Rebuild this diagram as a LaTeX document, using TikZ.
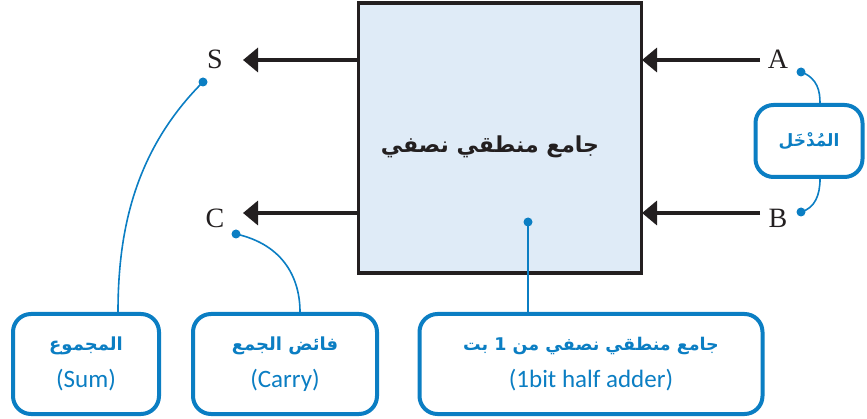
\documentclass[tikz,border=0pt]{standalone}
\usepackage{fontspec}
\setmainfont{Liberation Serif}
\newfontfamily\arabicfont[Script=Arabic]{DejaVu Sans}
\newfontfamily\latinsans{Carlito}
\TeXXeTstate=1
\usetikzlibrary{arrows.meta}
\definecolor{callblue}{HTML}{0B7EC3}
\definecolor{boxfill}{HTML}{DFEBF7}
\definecolor{ink}{HTML}{231F20}
\tikzset{
  callout/.style={draw=callblue, line width=4pt, rounded corners=18pt, fill=white, align=center, text=callblue, inner sep=0pt},
  conn/.style={draw=callblue, line width=1.6pt},
  sig/.style={draw=ink, line width=3.5pt, -{Triangle[length=15pt,width=24pt]}},
  lbl/.style={font=\fontsize{28}{32}\selectfont, text=ink},
  dotc/.style={fill=callblue, draw=none}
}
\begin{document}
\begin{tikzpicture}[x=1pt,y=-1pt]
\useasboundingbox (0,0) rectangle (867,419);
% main box
\node[draw=ink, line width=3.5pt, fill=boxfill, minimum width=283pt, minimum height=270pt, inner sep=0pt] (ha) at (500,138) {};
\node[text=ink] (hat) at (490,147) {\arabicfont\bfseries\fontsize{22}{26}\selectfont\beginR جامع منطقي نصفي\endR};
% labels
\node[lbl] (S) at (215,59) {S};
\node[lbl] (C) at (215,218) {C};
\node[lbl] (A) at (778,59) {A};
\node[lbl] (B) at (778,218) {B};
\coordinate (sout) at (358.5,60);
\coordinate (cout) at (358.5,213);
\coordinate (ain) at (760,60);
\coordinate (bin) at (760,213);
\coordinate (sarr) at (243,60);
\coordinate (carr) at (243,213);
\coordinate (aarr) at (642,60);
\coordinate (barr) at (642,213);
\draw[sig] (sout) -- (sarr);
\draw[sig] (cout) -- (carr);
\draw[sig] (ain) -- (aarr);
\draw[sig] (bin) -- (barr);
% callouts
\node[callout, minimum width=107pt, minimum height=72pt] (inp) at (809,141) {\arabicfont\bfseries\fontsize{17}{20}\selectfont\beginR المُدْخَل\endR};
\node[callout, minimum width=146pt, minimum height=100pt] (sum) at (86,364) {\arabicfont\bfseries\fontsize{18}{22}\selectfont\beginR المجموع\endR\\[13pt]\latinsans\fontsize{25}{28}\selectfont (Sum)};
\node[callout, minimum width=184pt, minimum height=100pt] (carry) at (285,364) {\arabicfont\bfseries\fontsize{18}{22}\selectfont\beginR فائض الجمع\endR\\[13pt]\latinsans\fontsize{25}{28}\selectfont (Carry)};
\node[callout, minimum width=343pt, minimum height=100pt] (half) at (591,364) {\arabicfont\bfseries\fontsize{17.5}{22}\selectfont\beginR جامع منطقي نصفي من 1 بت\endR\\[13pt]\latinsans\fontsize{25}{28}\selectfont (1bit half adder)};
% dots
\coordinate (dS) at (203,82);
\coordinate (dC) at (236,234);
\coordinate (dH) at (528,222);
\coordinate (dA) at (801,72);
\coordinate (dB) at (801,212);
\draw[conn] (dS) .. controls (135,150) and (118,230) .. (sum.north -| 118,0);
\draw[conn] (dC) .. controls (285,245) and (300,280) .. (carry.north -| 300,0);
\draw[conn] (dH) -- (half.north -| 528,0);
\draw[conn] (dA) .. controls (818,78) and (820,92) .. (inp.north -| 820,0);
\draw[conn] (inp.south -| 820,0) .. controls (820,195) and (815,208) .. (dB);
\foreach \d in {dS,dC,dH,dA,dB} \fill[dotc] (\d) circle (4.5pt);
\end{tikzpicture}
\end{document}
